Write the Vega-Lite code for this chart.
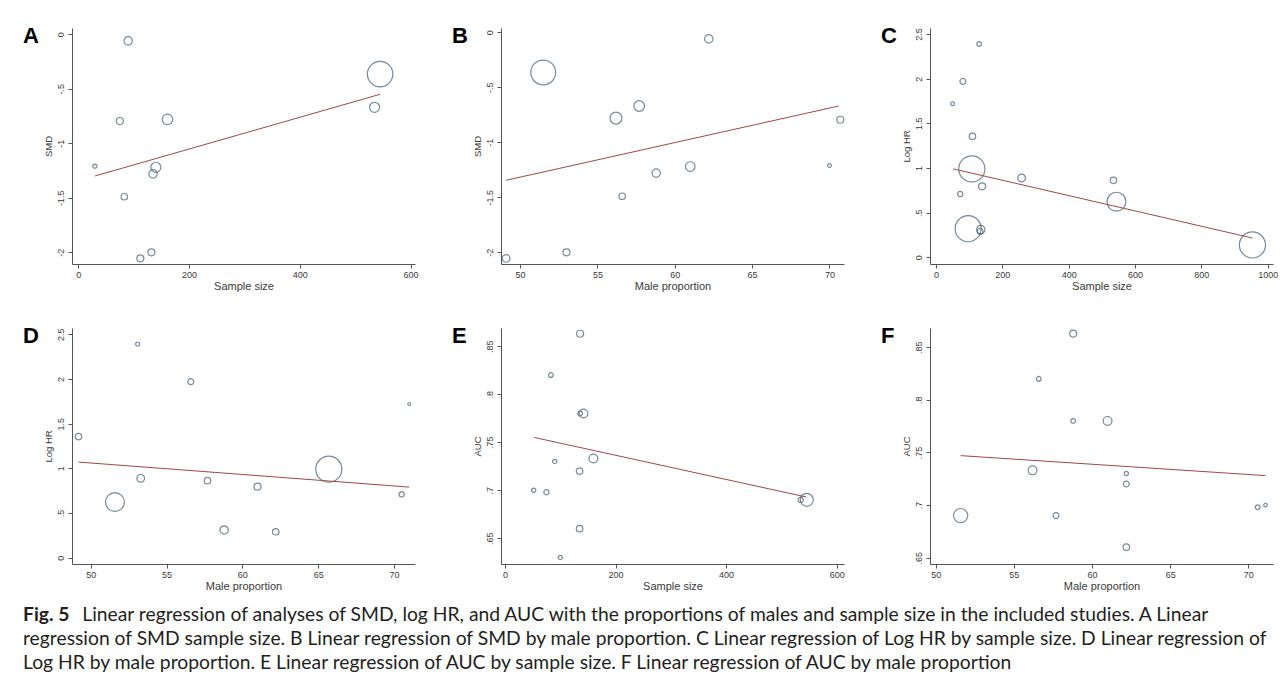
{
  "$schema": "https://vega.github.io/schema/vega-lite/v6.json",
  "background": "white",
  "padding": {"left": 23, "top": 24, "right": 0, "bottom": 0},
  "config": {
    "view": {"stroke": null},
    "font": "Liberation Sans",
    "axis": {"grid": false, "domainColor": "#555555", "tickColor": "#555555", "tickSize": 4, "labelFontSize": 9, "labelColor": "#3a3a3a", "titleFontWeight": "normal", "titleColor": "#3a3a3a", "labelFont": "Liberation Sans", "titleFont": "Liberation Sans", "domainWidth": 1, "tickWidth": 1,
      "labelExpr": "(datum.value < 0 ? '-' : '') + replace(format(abs(datum.value), '~g'), regexp('^0[.]'), '.')"},
    "axisX": {"labelPadding": 2.5, "titlePadding": 1, "titleFontSize": 11, "labelFlush": false},
    "axisY": {"labelAngle": -90, "labelAlign": "center", "labelBaseline": "bottom", "labelPadding": 3, "titlePadding": 3, "titleFontSize": 9.5, "labelFlush": false},
    "point": {"shape": "circle", "filled": false, "strokeWidth": 1.2, "color": "#3d5a6c"},
    "line": {"color": "#a04848", "strokeWidth": 1}
  },
  "datasets": {
    "A_pts": [
      {"sample_size": 90, "smd": -0.06, "weight": 20},
      {"sample_size": 545, "smd": -0.365, "weight": 185},
      {"sample_size": 535, "smd": -0.67, "weight": 29},
      {"sample_size": 75, "smd": -0.795, "weight": 14},
      {"sample_size": 161, "smd": -0.78, "weight": 32},
      {"sample_size": 30, "smd": -1.21, "weight": 5},
      {"sample_size": 140, "smd": -1.22, "weight": 29},
      {"sample_size": 135, "smd": -1.28, "weight": 20},
      {"sample_size": 83, "smd": -1.49, "weight": 12},
      {"sample_size": 132, "smd": -2.0, "weight": 14},
      {"sample_size": 112, "smd": -2.055, "weight": 14}
    ],
    "A_fit": [
      {"sample_size": 30, "smd": -1.3},
      {"sample_size": 545, "smd": -0.55}
    ],
    "B_pts": [
      {"male_pct": 62.2, "smd": -0.06, "weight": 20},
      {"male_pct": 51.5, "smd": -0.365, "weight": 176},
      {"male_pct": 57.7, "smd": -0.67, "weight": 32},
      {"male_pct": 56.2, "smd": -0.78, "weight": 40},
      {"male_pct": 70.7, "smd": -0.795, "weight": 14},
      {"male_pct": 61.0, "smd": -1.22, "weight": 26},
      {"male_pct": 70.0, "smd": -1.21, "weight": 4},
      {"male_pct": 58.8, "smd": -1.28, "weight": 20},
      {"male_pct": 56.6, "smd": -1.49, "weight": 12},
      {"male_pct": 53.0, "smd": -2.0, "weight": 14},
      {"male_pct": 49.1, "smd": -2.055, "weight": 17}
    ],
    "B_fit": [
      {"male_pct": 49.1, "smd": -1.345},
      {"male_pct": 70.6, "smd": -0.67}
    ],
    "C_pts": [
      {"sample_size": 130, "log_hr": 2.39, "weight": 6},
      {"sample_size": 81, "log_hr": 1.97, "weight": 10},
      {"sample_size": 50, "log_hr": 1.72, "weight": 4},
      {"sample_size": 110, "log_hr": 1.355, "weight": 12},
      {"sample_size": 108, "log_hr": 0.99, "weight": 194},
      {"sample_size": 258, "log_hr": 0.888, "weight": 17},
      {"sample_size": 535, "log_hr": 0.862, "weight": 12},
      {"sample_size": 139, "log_hr": 0.795, "weight": 14},
      {"sample_size": 73, "log_hr": 0.709, "weight": 8},
      {"sample_size": 544, "log_hr": 0.623, "weight": 102},
      {"sample_size": 97, "log_hr": 0.32, "weight": 194},
      {"sample_size": 135, "log_hr": 0.31, "weight": 20},
      {"sample_size": 133, "log_hr": 0.29, "weight": 10},
      {"sample_size": 954, "log_hr": 0.138, "weight": 194}
    ],
    "C_fit": [
      {"sample_size": 52, "log_hr": 0.99},
      {"sample_size": 954, "log_hr": 0.216}
    ],
    "D_pts": [
      {"male_pct": 53.1, "log_hr": 2.39, "weight": 5},
      {"male_pct": 56.6, "log_hr": 1.97, "weight": 10},
      {"male_pct": 71.0, "log_hr": 1.72, "weight": 2.5},
      {"male_pct": 49.2, "log_hr": 1.355, "weight": 12},
      {"male_pct": 65.7, "log_hr": 0.99, "weight": 194},
      {"male_pct": 53.3, "log_hr": 0.888, "weight": 17},
      {"male_pct": 57.7, "log_hr": 0.862, "weight": 12},
      {"male_pct": 61.0, "log_hr": 0.795, "weight": 14},
      {"male_pct": 51.6, "log_hr": 0.623, "weight": 102},
      {"male_pct": 70.5, "log_hr": 0.709, "weight": 8},
      {"male_pct": 58.8, "log_hr": 0.31, "weight": 20},
      {"male_pct": 62.2, "log_hr": 0.29, "weight": 12}
    ],
    "D_fit": [
      {"male_pct": 49.2, "log_hr": 1.07},
      {"male_pct": 71.0, "log_hr": 0.79}
    ],
    "E_pts": [
      {"sample_size": 136, "auc": 0.863, "weight": 14},
      {"sample_size": 83, "auc": 0.82, "weight": 6.4},
      {"sample_size": 142, "auc": 0.78, "weight": 22},
      {"sample_size": 136, "auc": 0.78, "weight": 6.4},
      {"sample_size": 160, "auc": 0.733, "weight": 22},
      {"sample_size": 90, "auc": 0.73, "weight": 5},
      {"sample_size": 135, "auc": 0.72, "weight": 12},
      {"sample_size": 52, "auc": 0.70, "weight": 5},
      {"sample_size": 75, "auc": 0.698, "weight": 8},
      {"sample_size": 546, "auc": 0.69, "weight": 48},
      {"sample_size": 535, "auc": 0.69, "weight": 8},
      {"sample_size": 135, "auc": 0.66, "weight": 12},
      {"sample_size": 100, "auc": 0.63, "weight": 5}
    ],
    "E_fit": [
      {"sample_size": 53, "auc": 0.755},
      {"sample_size": 545, "auc": 0.693}
    ],
    "F_pts": [
      {"male_pct": 58.8, "auc": 0.863, "weight": 14},
      {"male_pct": 56.6, "auc": 0.82, "weight": 6.4},
      {"male_pct": 58.8, "auc": 0.78, "weight": 6.4},
      {"male_pct": 61.0, "auc": 0.78, "weight": 22},
      {"male_pct": 56.2, "auc": 0.733, "weight": 22},
      {"male_pct": 62.2, "auc": 0.73, "weight": 5},
      {"male_pct": 62.2, "auc": 0.72, "weight": 10},
      {"male_pct": 70.6, "auc": 0.698, "weight": 6.4},
      {"male_pct": 71.1, "auc": 0.70, "weight": 3.6},
      {"male_pct": 51.6, "auc": 0.69, "weight": 58},
      {"male_pct": 57.7, "auc": 0.69, "weight": 10},
      {"male_pct": 62.2, "auc": 0.66, "weight": 12}
    ],
    "F_fit": [
      {"male_pct": 51.6, "auc": 0.747},
      {"male_pct": 71.1, "auc": 0.728}
    ]
  },
  "title": {
    "text": "Fig. 5",
    "subtitle": [
      "\u200b\u00a0\u00a0\u00a0\u00a0\u00a0\u00a0\u00a0\u00a0\u00a0\u00a0\u00a0\u00a0Linear regression of analyses of SMD, log HR, and AUC with the proportions of males and sample size in the included studies. A Linear",
      "regression of SMD sample size. B Linear regression of SMD by male proportion. C Linear regression of Log HR by sample size. D Linear regression of",
      "Log HR by male proportion. E Linear regression of AUC by sample size. F Linear regression of AUC by male proportion"
    ],
    "orient": "bottom", "anchor": "start", "frame": "bounds",
    "font": "Lato", "fontSize": 19.3, "fontWeight": "bold", "color": "#231f20",
    "subtitleFont": "Lato", "subtitleFontSize": 19.3, "subtitleFontWeight": "normal", "subtitleColor": "#231f20",
    "subtitleLineHeight": 24.2, "subtitlePadding": -19.3, "offset": 14
  },
  "bounds": "flush",
  "columns": 3,
  "spacing": {"row": 64, "column": 86},
  "concat": [
    {
      "width": 343, "height": 236,
      "title": {"text": "A", "anchor": "start", "frame": "group", "font": "Liberation Sans", "fontSize": 22, "fontWeight": "bold", "color": "#000000", "baseline": "top", "offset": 0, "dx": -49, "dy": 20},
      "layer": [
        {"data": {"name": "A_pts"}, "mark": "point",
         "encoding": {
           "x": {"field": "sample_size", "type": "quantitative", "title": "Sample size", "scale": {"domain": [-11.4, 608], "nice": false, "zero": false}, "axis": {"values": [0, 200, 400, 600]}},
           "y": {"field": "smd", "type": "quantitative", "title": "SMD", "scale": {"domain": [-2.107, 0.058], "nice": false, "zero": false}, "axis": {"values": [0, -0.5, -1, -1.5, -2]}},
           "size": {"field": "weight", "type": "quantitative", "scale": {"domain": [0, 200], "range": [0, 700]}, "legend": null}
         }},
        {"data": {"name": "A_fit"}, "mark": "line",
         "encoding": {
           "x": {"field": "sample_size", "type": "quantitative", "title": "Sample size"},
           "y": {"field": "smd", "type": "quantitative", "title": "SMD"}
         }}
      ]
    },
    {
      "width": 343, "height": 236,
      "title": {"text": "B", "anchor": "start", "frame": "group", "font": "Liberation Sans", "fontSize": 22, "fontWeight": "bold", "color": "#000000", "baseline": "top", "offset": 0, "dx": -49, "dy": 20},
      "layer": [
        {"data": {"name": "B_pts"}, "mark": "point",
         "encoding": {
           "x": {"field": "male_pct", "type": "quantitative", "title": "Male proportion", "scale": {"domain": [48.77, 70.94], "nice": false, "zero": false}, "axis": {"values": [50, 55, 60, 65, 70]}},
           "y": {"field": "smd", "type": "quantitative", "title": "SMD", "scale": {"domain": [-2.106, 0.039], "nice": false, "zero": false}, "axis": {"values": [0, -0.5, -1, -1.5, -2]}},
           "size": {"field": "weight", "type": "quantitative", "scale": {"domain": [0, 200], "range": [0, 700]}, "legend": null}
         }},
        {"data": {"name": "B_fit"}, "mark": "line",
         "encoding": {
           "x": {"field": "male_pct", "type": "quantitative", "title": "Male proportion"},
           "y": {"field": "smd", "type": "quantitative", "title": "SMD"}
         }}
      ]
    },
    {
      "width": 343, "height": 236,
      "title": {"text": "C", "anchor": "start", "frame": "group", "font": "Liberation Sans", "fontSize": 22, "fontWeight": "bold", "color": "#000000", "baseline": "top", "offset": 0, "dx": -49, "dy": 20},
      "layer": [
        {"data": {"name": "C_pts"}, "mark": "point",
         "encoding": {
           "x": {"field": "sample_size", "type": "quantitative", "title": "Sample size", "scale": {"domain": [-18.1, 1016], "nice": false, "zero": false}, "axis": {"values": [0, 200, 400, 600, 800, 1000]}},
           "y": {"field": "log_hr", "type": "quantitative", "title": "Log HR", "scale": {"domain": [-0.075, 2.568], "nice": false, "zero": false}, "axis": {"values": [0, 0.5, 1, 1.5, 2, 2.5]}},
           "size": {"field": "weight", "type": "quantitative", "scale": {"domain": [0, 200], "range": [0, 700]}, "legend": null}
         }},
        {"data": {"name": "C_fit"}, "mark": "line",
         "encoding": {
           "x": {"field": "sample_size", "type": "quantitative", "title": "Sample size"},
           "y": {"field": "log_hr", "type": "quantitative", "title": "Log HR"}
         }}
      ]
    },
    {
      "width": 343, "height": 236,
      "title": {"text": "D", "anchor": "start", "frame": "group", "font": "Liberation Sans", "fontSize": 22, "fontWeight": "bold", "color": "#000000", "baseline": "top", "offset": 0, "dx": -49, "dy": 20},
      "layer": [
        {"data": {"name": "D_pts"}, "mark": "point",
         "encoding": {
           "x": {"field": "male_pct", "type": "quantitative", "title": "Male proportion", "scale": {"domain": [48.77, 71.38], "nice": false, "zero": false}, "axis": {"values": [50, 55, 60, 65, 70]}},
           "y": {"field": "log_hr", "type": "quantitative", "title": "Log HR", "scale": {"domain": [-0.0705, 2.57], "nice": false, "zero": false}, "axis": {"values": [0, 0.5, 1, 1.5, 2, 2.5]}},
           "size": {"field": "weight", "type": "quantitative", "scale": {"domain": [0, 200], "range": [0, 700]}, "legend": null}
         }},
        {"data": {"name": "D_fit"}, "mark": "line",
         "encoding": {
           "x": {"field": "male_pct", "type": "quantitative", "title": "Male proportion"},
           "y": {"field": "log_hr", "type": "quantitative", "title": "Log HR"}
         }}
      ]
    },
    {
      "width": 343, "height": 236,
      "title": {"text": "E", "anchor": "start", "frame": "group", "font": "Liberation Sans", "fontSize": 22, "fontWeight": "bold", "color": "#000000", "baseline": "top", "offset": 0, "dx": -49, "dy": 20},
      "layer": [
        {"data": {"name": "E_pts"}, "mark": "point",
         "encoding": {
           "x": {"field": "sample_size", "type": "quantitative", "title": "Sample size", "scale": {"domain": [-7.2, 613.3], "nice": false, "zero": false}, "axis": {"values": [0, 200, 400, 600]}},
           "y": {"field": "auc", "type": "quantitative", "title": "AUC", "scale": {"domain": [0.6232, 0.869], "nice": false, "zero": false}, "axis": {"values": [0.65, 0.7, 0.75, 0.8, 0.85]}},
           "size": {"field": "weight", "type": "quantitative", "scale": {"domain": [0, 200], "range": [0, 700]}, "legend": null}
         }},
        {"data": {"name": "E_fit"}, "mark": "line",
         "encoding": {
           "x": {"field": "sample_size", "type": "quantitative", "title": "Sample size"},
           "y": {"field": "auc", "type": "quantitative", "title": "AUC"}
         }}
      ]
    },
    {
      "width": 343, "height": 236,
      "title": {"text": "F", "anchor": "start", "frame": "group", "font": "Liberation Sans", "fontSize": 22, "fontWeight": "bold", "color": "#000000", "baseline": "top", "offset": 0, "dx": -49, "dy": 20},
      "layer": [
        {"data": {"name": "F_pts"}, "mark": "point",
         "encoding": {
           "x": {"field": "male_pct", "type": "quantitative", "title": "Male proportion", "scale": {"domain": [49.64, 71.58], "nice": false, "zero": false}, "axis": {"values": [50, 55, 60, 65, 70]}},
           "y": {"field": "auc", "type": "quantitative", "title": "AUC", "scale": {"domain": [0.644, 0.8683], "nice": false, "zero": false}, "axis": {"values": [0.65, 0.7, 0.75, 0.8, 0.85]}},
           "size": {"field": "weight", "type": "quantitative", "scale": {"domain": [0, 200], "range": [0, 700]}, "legend": null}
         }},
        {"data": {"name": "F_fit"}, "mark": "line",
         "encoding": {
           "x": {"field": "male_pct", "type": "quantitative", "title": "Male proportion"},
           "y": {"field": "auc", "type": "quantitative", "title": "AUC"}
         }}
      ]
    }
  ]
}
